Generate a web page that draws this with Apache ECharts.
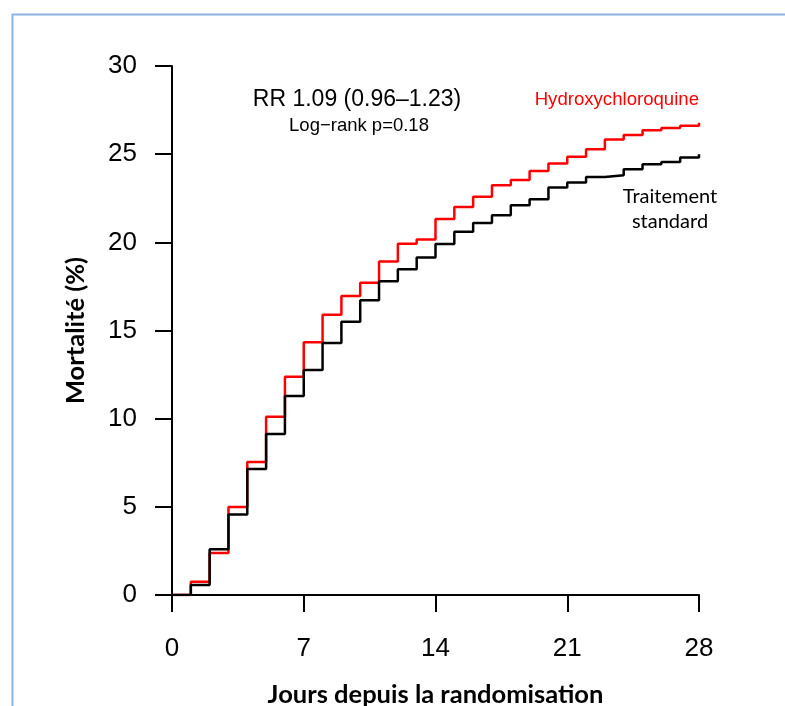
<!DOCTYPE html>
<html>
<head>
<meta charset="utf-8">
<script src="https://cdn.jsdelivr.net/npm/echarts@6/dist/echarts.min.js"></script>
<style>
  html, body { margin: 0; padding: 0; background: #fff; }
  #grafico { width: 785px; height: 706px; }
</style>
</head>
<body>
<div id="grafico"></div>
<script>
// jours depuis la randomisation
const jours = [0, 1, 2, 3, 4, 5, 6, 7, 8, 9, 10, 11, 12, 13, 14,
  15, 16, 17, 18, 19, 20, 21, 22, 23, 24, 25, 26, 27, 28];
// mortalité cumulée (%)
const hydroxychloroquine = [0, 0.75, 2.38, 4.99, 7.54, 10.11, 12.38, 14.33, 15.89, 16.95, 17.71,
  18.92, 19.92, 20.16, 21.33, 22.01, 22.58, 23.24, 23.53, 24.05, 24.47,
  24.85, 25.28, 25.83, 26.08, 26.36, 26.49, 26.61, 26.78];
const traitementStandard = [0, 0.57, 2.59, 4.57, 7.14, 9.13, 11.28, 12.76, 14.29, 15.49, 16.71,
  17.80, 18.48, 19.14, 19.90, 20.60, 21.10, 21.54, 22.11, 22.45, 23.11,
  23.39, 23.71, 23.81, 24.15, 24.43, 24.56, 24.81, 25.00];
const ticksX = [0, 7, 14, 21, 28];
const ticksY = [0, 5, 10, 15, 20, 25, 30];

const police = '"Liberation Sans", Arial, sans-serif';
const policeTitre = 'Lato, "Liberation Sans", sans-serif';

const crearSerie = (nombre, valores, color, z) => ({
  name: nombre,
  type: 'line',
  step: 'end',
  showSymbol: false,
  z: z,
  lineStyle: { color: color, width: 2.5 },
  data: jours.map((j, i) => [j, valores[i]])
});

const chart = echarts.init(document.getElementById('grafico'));

const ejeComun = {
  type: 'value',
  splitLine: { show: false },
  axisLine: { show: true, lineStyle: { color: '#000', width: 2 } },
  axisTick: { show: true, length: 17, lineStyle: { color: '#000', width: 2 } },
  nameLocation: 'middle',
  nameTextStyle: { fontFamily: policeTitre, fontWeight: 'bold', fontSize: 25.5, color: '#000' }
};

chart.setOption({
  animation: false,
  grid: { left: 172, right: 86, top: 66, bottom: 111, outerBoundsMode: 'none', containLabel: false },
  xAxis: Object.assign({}, ejeComun, {
    min: ticksX[0],
    max: ticksX[ticksX.length - 1],
    interval: 7,
    name: 'Jours depuis la randomisation',
    nameGap: 87,
    axisLabel: { fontFamily: police, fontSize: 26, color: '#000', margin: 41 }
  }),
  yAxis: Object.assign({}, ejeComun, {
    min: ticksY[0],
    max: ticksY[ticksY.length - 1],
    interval: 5,
    name: 'Mortalité (%)',
    nameGap: 83,
    axisLabel: { fontFamily: police, fontSize: 26, color: '#000', margin: 35 }
  }),
  series: [
    crearSerie('Hydroxychloroquine', hydroxychloroquine, '#ff0000', 2),
    crearSerie('Traitement standard', traitementStandard, '#000000', 3)
  ],
  graphic: [
    {
      type: 'rect', left: 10, top: 12, silent: true, z: -1,
      shape: { width: 800, height: 720 },
      style: { fill: 'none', stroke: '#8db3e2', lineWidth: 2 }
    },
    {
      type: 'text', x: 357, y: 100,
      style: { text: 'RR 1.09 (0.96\u20131.23)', font: '23px ' + police, fill: '#000',
        textAlign: 'center', textVerticalAlign: 'middle' }
    },
    {
      type: 'text', x: 359, y: 126,
      style: { text: 'Log\u2212rank p=0.18', font: '18.5px ' + police, fill: '#000',
        textAlign: 'center', textVerticalAlign: 'middle' }
    },
    {
      type: 'text', x: 699, y: 100,
      style: { text: 'Hydroxychloroquine', font: '18.6px ' + police, fill: '#ff0000',
        textAlign: 'right', textVerticalAlign: 'middle' }
    },
    {
      type: 'text', x: 670, y: 197,
      style: { text: 'Traitement', font: '20px ' + policeTitre, fill: '#000',
        textAlign: 'center', textVerticalAlign: 'middle' }
    },
    {
      type: 'text', x: 670, y: 222,
      style: { text: 'standard', font: '20px ' + policeTitre, fill: '#000',
        textAlign: 'center', textVerticalAlign: 'middle' }
    }
  ]
});
</script>
</body>
</html>
